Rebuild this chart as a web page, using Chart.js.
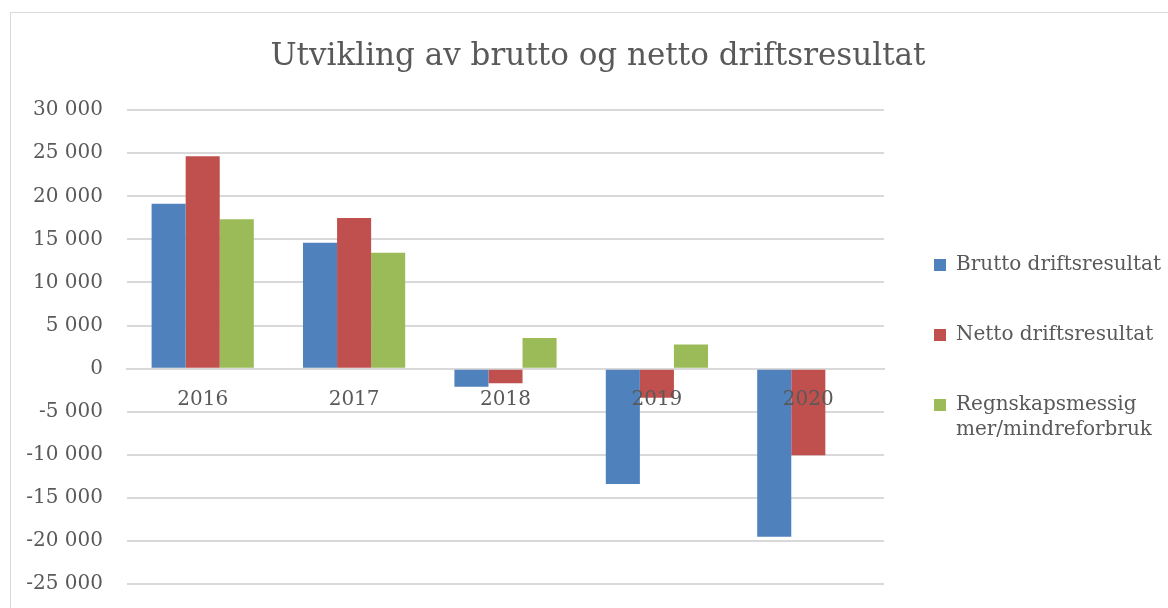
<!DOCTYPE html>
<html>
<head>
<meta charset="utf-8">
<script src="https://cdn.jsdelivr.net/npm/chart.js@4/dist/chart.umd.min.js"></script>
<style>
  html, body { margin: 0; padding: 0; background: #fff; overflow: hidden; width: 1168px; height: 608px; }
  #frame { position: absolute; left: 10px; top: 12px; width: 1200px; height: 700px; border: 1px solid #d9d9d9; box-sizing: border-box; }
  #wrap { position: absolute; left: 10px; top: 12px; width: 1168px; height: 608px; }
</style>
</head>
<body>
<div id="frame"></div>
<div id="wrap"><canvas id="c" width="1168" height="608"></canvas></div>
<script>
const categories = ['2016', '2017', '2018', '2019', '2020'];
const seriesNames = ['Brutto driftsresultat', 'Netto driftsresultat', 'Regnskapsmessig\nmer/mindreforbruk'];
const bruttoValues = [19150, 14600, -2110, -13380, -19520];
const nettoValues = [24640, 17490, -1710, -3380, -10050];
const regnskapValues = [17340, 13440, 3570, 2800, null];
const seriesColors = ['#4f81bd', '#c0504d', '#9bbb59'];
const yTicks = [30000, 25000, 20000, 15000, 10000, 5000, 0, -5000, -10000, -15000, -20000, -25000];
const titleText = 'Utvikling av brutto og netto driftsresultat';

const FONT = "'DejaVu Serif', serif";
const TEXT = '#595959';
const GRID = '#d9d9d9';

function fmt(v) {
  const s = String(Math.abs(v)).replace(/\B(?=(\d{3})+(?!\d))/g, ' ');
  return (v < 0 ? '-' : '') + s;
}

const allSeries = [bruttoValues, nettoValues, regnskapValues];
const datasets = allSeries.map((vals, i) => ({
  label: seriesNames[i],
  data: vals,
  backgroundColor: seriesColors[i],
  borderWidth: 0,
  categoryPercentage: 0.675,
  barPercentage: 1.0
}));

new Chart(document.getElementById('c'), {
  type: 'bar',
  data: { labels: categories, datasets },
  options: {
    responsive: false,
    animation: false,
    layout: { padding: { left: 16, right: 8, top: 0, bottom: 36 } },
    plugins: {
      title: {
        display: true,
        text: titleText,
        color: TEXT,
        font: { family: FONT, size: 31, weight: 'normal' },
        padding: { top: 26, bottom: 35 }
      },
      legend: {
        position: 'right',
        title: { display: true, text: ' ', font: { size: 10, lineHeight: 1.2 }, padding: { top: 92, bottom: 0 } },
        labels: {
          color: TEXT,
          font: { family: FONT, size: 20, lineHeight: 1.25 },
          boxWidth: 12,
          boxHeight: 12,
          padding: 50,
          generateLabels(chart) {
            const items = Chart.defaults.plugins.legend.labels.generateLabels(chart);
            items.forEach(it => {
              it.text = it.text.includes('\n') ? it.text.split('\n') : it.text;
              it.strokeStyle = it.fillStyle;
              it.lineWidth = 0;
            });
            return items;
          }
        }
      },
      tooltip: { enabled: false }
    },
    scales: {
      x: {
        position: { y: 0 },
        grid: { display: false, drawTicks: false },
        border: { display: true, color: GRID, width: 2 },
        ticks: { color: TEXT, font: { family: FONT, size: 20 }, padding: 19, z: 1 },
        afterFit(scale) { scale.height = 0; }
      },
      y: {
        min: -25000,
        max: 30000,
        afterBuildTicks(scale) { scale.ticks = yTicks.map(v => ({ value: v })); },
        afterFit(scale) { scale.width = 101; },
        grid: { color: GRID, lineWidth: 2, drawTicks: false },
        border: { display: false },
        ticks: {
          color: TEXT,
          font: { family: FONT, size: 20 },
          padding: 24,
          callback: (v) => fmt(v)
        }
      }
    }
  }
});
</script>
</body>
</html>
